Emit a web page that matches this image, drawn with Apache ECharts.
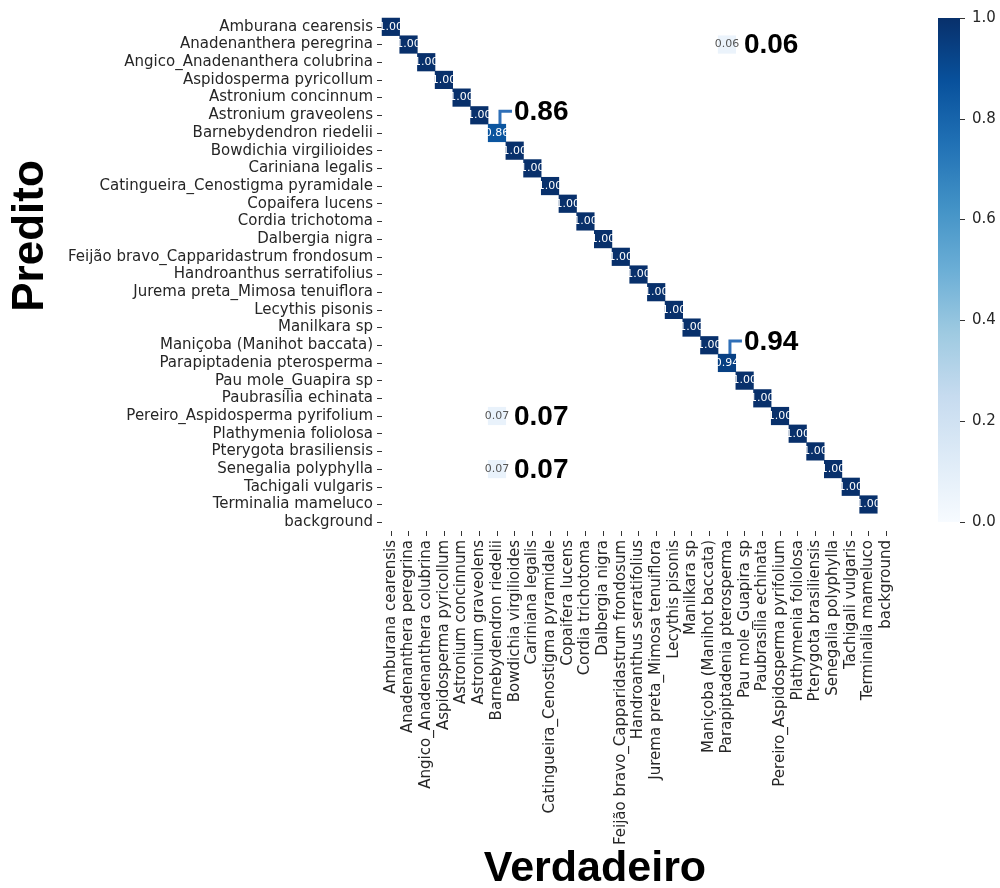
<!DOCTYPE html>
<html>
<head>
<meta charset="utf-8">
<title>Matriz de confusão</title>
<script src="https://cdn.jsdelivr.net/npm/echarts@6/dist/echarts.min.js"></script>
<style>
  html, body { margin: 0; padding: 0; background: #ffffff; }
  #chart { width: 1000px; height: 888px; }
</style>
</head>
<body>
<div id="chart"></div>
<script>
// Class names (same order on both axes)
const classes = [
  'Amburana cearensis',
  'Anadenanthera peregrina',
  'Angico_Anadenanthera colubrina',
  'Aspidosperma pyricollum',
  'Astronium concinnum',
  'Astronium graveolens',
  'Barnebydendron riedelii',
  'Bowdichia virgilioides',
  'Cariniana legalis',
  'Catingueira_Cenostigma pyramidale',
  'Copaifera lucens',
  'Cordia trichotoma',
  'Dalbergia nigra',
  'Feijão bravo_Capparidastrum frondosum',
  'Handroanthus serratifolius',
  'Jurema preta_Mimosa tenuiflora',
  'Lecythis pisonis',
  'Manilkara sp',
  'Maniçoba (Manihot baccata)',
  'Parapiptadenia pterosperma',
  'Pau mole_Guapira sp',
  'Paubrasilia echinata',
  'Pereiro_Aspidosperma pyrifolium',
  'Plathymenia foliolosa',
  'Pterygota brasiliensis',
  'Senegalia polyphylla',
  'Tachigali vulgaris',
  'Terminalia mameluco',
  'background'
];

// Diagonal (correct prediction rate per true class)
const diagonal = [
  1.00, 1.00, 1.00, 1.00, 1.00, 1.00, 0.86, 1.00, 1.00, 1.00,
  1.00, 1.00, 1.00, 1.00, 1.00, 1.00, 1.00, 1.00, 1.00, 0.94,
  1.00, 1.00, 1.00, 1.00, 1.00, 1.00, 1.00, 1.00, 0.00
];

// Misclassifications: [true class index, predicted class index, rate]
const offDiagonal = [
  [19, 1, 0.06],
  [6, 22, 0.07],
  [6, 25, 0.07]
];

// Colour bar range and tick step
const colorbarMin = 0.0;
const colorbarMax = 1.0;
const colorbarStep = 0.2;

// Cells highlighted with large call-out labels: [true idx, pred idx, bracket?]
const callouts = [
  [6, 6, true],
  [19, 19, true],
  [19, 1, false],
  [6, 22, false],
  [6, 25, false]
];

// Blues colour scale
const blues = ['#f7fbff', '#deebf7', '#c6dbef', '#9ecae1', '#6baed6',
               '#4292c6', '#2171b5', '#08519c', '#08306b'];

// Matrix cells (zeros are left blank)
const cells = [];
diagonal.forEach((v, i) => { if (v > 0) cells.push([i, i, v]); });
offDiagonal.forEach(d => cells.push(d.slice()));

function valueAt(t, p) {
  const c = cells.find(d => d[0] === t && d[1] === p);
  return c ? c[2] : 0;
}

const FONT = 'DejaVu Sans';
const TITLE_FONT = 'Liberation Sans, Arial, sans-serif';
const chart = echarts.init(document.getElementById('chart'), null, { renderer: 'canvas' });

const option = {
  backgroundColor: '#ffffff',
  animation: false,
  grid: [
    { left: 382, top: 18, width: 513, height: 513 },
    { left: 938, top: 18, width: 22, height: 504 }
  ],
  xAxis: [
    {
      type: 'category', gridIndex: 0, data: classes, position: 'bottom',
      axisLine: { show: false },
      axisTick: { show: true, length: 5, alignWithLabel: true, lineStyle: { color: '#333', width: 1 } },
      axisLabel: { rotate: 90, interval: 0, margin: 9, fontFamily: FONT, fontSize: 15, color: '#262626' },
      splitLine: { show: false }
    },
    {
      type: 'value', gridIndex: 1, min: 0, max: 1, show: false,
      axisLine: { show: false }, axisTick: { show: false }, axisLabel: { show: false },
      splitLine: { show: false }
    }
  ],
  yAxis: [
    {
      type: 'category', gridIndex: 0, data: classes, inverse: true,
      axisLine: { show: false },
      axisTick: { show: true, length: 5, alignWithLabel: true, lineStyle: { color: '#333', width: 1 } },
      axisLabel: { interval: 0, margin: 9, fontFamily: FONT, fontSize: 15, color: '#262626' },
      splitLine: { show: false }
    },
    {
      type: 'value', gridIndex: 1, min: colorbarMin, max: colorbarMax, interval: colorbarStep,
      position: 'right',
      axisLine: { show: false, onZero: false },
      axisTick: { show: true, length: 5, lineStyle: { color: '#333', width: 1 } },
      axisLabel: { margin: 12, fontFamily: FONT, fontSize: 15, color: '#262626',
                   formatter: v => v.toFixed(1) },
      splitLine: { show: false }
    }
  ],
  visualMap: {
    type: 'continuous', min: colorbarMin, max: colorbarMax, show: false, seriesIndex: 0,
    inRange: { color: blues }
  },
  series: [
    {
      type: 'heatmap', xAxisIndex: 0, yAxisIndex: 0,
      data: cells.map(d => ({
        value: d,
        label: { color: d[2] < 0.5 ? '#555555' : '#ffffff' }
      })),
      itemStyle: { borderWidth: 0 },
      emphasis: { disabled: true },
      label: {
        show: true,
        fontFamily: FONT,
        fontSize: 11,
        formatter: p => p.value[2].toFixed(2)
      }
    }
  ]
};

chart.setOption(option);

// Colour bar gradient, axis titles and call-out annotations
function buildGraphics() {
  const els = [];
  const g = chart.getModel().getComponent('grid', 0).coordinateSystem.getRect();

  const cbTop = chart.convertToPixel({ xAxisIndex: 1, yAxisIndex: 1 }, [0, colorbarMax]);
  const cbBottom = chart.convertToPixel({ xAxisIndex: 1, yAxisIndex: 1 }, [1, colorbarMin]);
  const stops = blues.slice().reverse().map((c, i) => ({ offset: i / (blues.length - 1), color: c }));
  els.push({
    type: 'rect', z: -1, silent: true,
    shape: { x: cbTop[0], y: cbTop[1], width: cbBottom[0] - cbTop[0], height: cbBottom[1] - cbTop[1] },
    style: { fill: new echarts.graphic.LinearGradient(0, 0, 0, 1, stops) }
  });

  els.push({
    type: 'text', x: 31, y: 236, rotation: Math.PI / 2,
    style: { text: 'Predito', fontFamily: TITLE_FONT, fontWeight: 'bold',
             fontSize: 44, fill: '#000', align: 'center', verticalAlign: 'middle' }
  });
  els.push({
    type: 'text', x: 595, y: 869,
    style: { text: 'Verdadeiro', fontFamily: TITLE_FONT, fontWeight: 'bold',
             fontSize: 43, fill: '#000', align: 'center', verticalAlign: 'middle' }
  });

  const cellH = g.height / classes.length;
  callouts.forEach(([t, p, bracket]) => {
    const c = chart.convertToPixel({ gridIndex: 0 }, [t, p]);
    const txt = valueAt(t, p).toFixed(2);
    if (bracket) {
      const top = c[1] - cellH / 2;
      const lx = c[0] + 3;
      const ly = top - 13;
      els.push({
        type: 'polyline',
        shape: { points: [[lx, top], [lx, ly], [lx + 12, ly]] },
        style: { stroke: '#2f6fb7', lineWidth: 3, fill: null }
      });
      els.push({
        type: 'text', x: lx + 14, y: ly + 1,
        style: { text: txt, fontFamily: TITLE_FONT, fontWeight: 'bold',
                 fontSize: 28, fill: '#000', align: 'left', verticalAlign: 'middle' }
      });
    } else {
      els.push({
        type: 'text', x: c[0] + 17, y: c[1] + 1,
        style: { text: txt, fontFamily: TITLE_FONT, fontWeight: 'bold',
                 fontSize: 28, fill: '#000', align: 'left', verticalAlign: 'middle' }
      });
    }
  });
  chart.setOption({ graphic: { elements: els } });
}
buildGraphics();
</script>
</body>
</html>
